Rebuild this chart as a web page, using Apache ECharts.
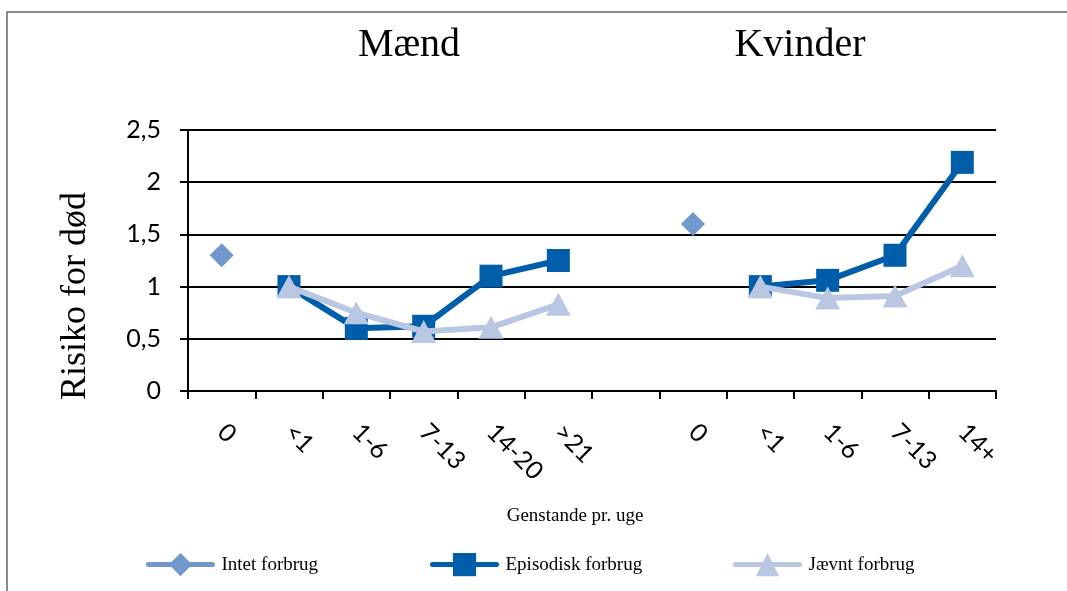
<!DOCTYPE html>
<html>
<head>
<meta charset="utf-8">
<script src="https://cdn.jsdelivr.net/npm/echarts@6/dist/echarts.min.js"></script>
<style>
html,body{margin:0;padding:0;background:#fff;}
#chart{width:1067px;height:591px;}
</style>
</head>
<body>
<div id="chart"></div>
<script>
const categories = ['0', '<1', '1-6', '7-13', '14-20', '>21', '', '0', '<1', '1-6', '7-13', '14+'];
const intetForbrug = [1.3, null, null, null, null, null, null, 1.6, null, null, null, null];
const episodiskForbrug = [null, 1.0, 0.6, 0.62, 1.1, 1.25, null, null, 1.0, 1.06, 1.3, 2.19];
const jaevntForbrug = [null, 1.0, 0.75, 0.57, 0.61, 0.83, null, null, 1.0, 0.89, 0.91, 1.2];
const yTicks = { min: 0, max: 2.5, interval: 0.5 };
const panelTitles = ['Mænd', 'Kvinder'];
const seriesNames = ['Intet forbrug', 'Episodisk forbrug', 'Jævnt forbrug'];

const C_INTET = '#7297CB', C_EPI = '#005DA9', C_JAEV = '#BAC7E3';
const serif = '"Liberation Serif", "Times New Roman", serif';
const sans = 'Lato, "Open Sans", sans-serif';

const chart = echarts.init(document.getElementById('chart'), null, { renderer: 'canvas' });

function legendAt(name, left) {
  return {
    data: [name], left: left, top: 553, padding: 0,
    itemWidth: 64, itemHeight: 29,
    lineStyle: { width: 5, cap: 'round' },
    textStyle: { fontFamily: serif, fontSize: 19, color: '#000', padding: [0, 0, 0, 4] },
    selectedMode: false
  };
}

chart.setOption({
  animation: false,
  backgroundColor: '#fff',
  grid: { left: 188, right: 71, top: 130, bottom: 200, containLabel: false },
  legend: [legendAt(seriesNames[0], 146), legendAt(seriesNames[1], 430), legendAt(seriesNames[2], 733)],
  xAxis: {
    type: 'category', data: categories, boundaryGap: true,
    axisLine: { lineStyle: { color: '#000', width: 2 } },
    axisTick: { show: true, length: 8, interval: 0, lineStyle: { color: '#000', width: 2 } },
    axisLabel: { interval: 0, rotate: -45, margin: 37, fontFamily: sans, fontSize: 25, color: '#000' },
    splitLine: { show: false }
  },
  yAxis: {
    type: 'value', min: yTicks.min, max: yTicks.max, interval: yTicks.interval,
    axisLine: { show: true, lineStyle: { color: '#000', width: 2 } },
    axisTick: { show: true, length: 8, lineStyle: { color: '#000', width: 2 } },
    axisLabel: { margin: 27, fontFamily: sans, fontSize: 25, color: '#000',
      formatter: v => String(v).replace('.', ',') },
    splitLine: { show: true, lineStyle: { color: '#000', width: 2 } }
  },
  series: [
    { name: seriesNames[1], type: 'line', data: episodiskForbrug, connectNulls: false,
      symbol: 'rect', symbolSize: 23, showAllSymbol: true,
      lineStyle: { color: C_EPI, width: 6 }, itemStyle: { color: C_EPI }, z: 2 },
    { name: seriesNames[2], type: 'line', data: jaevntForbrug, connectNulls: false,
      symbol: 'triangle', symbolSize: [25, 23], showAllSymbol: true,
      lineStyle: { color: C_JAEV, width: 6 }, itemStyle: { color: C_JAEV }, z: 3 },
    { name: seriesNames[0], type: 'line', data: intetForbrug, connectNulls: false,
      symbol: 'diamond', symbolSize: 24, showAllSymbol: true,
      lineStyle: { color: C_INTET, width: 6 }, itemStyle: { color: C_INTET }, z: 4 }
  ],
  graphic: [
    { type: 'rect', z: -10, shape: { x: 7, y: 12, width: 1200, height: 800 },
      style: { fill: 'none', stroke: '#666', lineWidth: 1.5 } },
    { type: 'text', x: 409, y: 45, style: { text: panelTitles[0], font: '40px ' + serif, fill: '#000', align: 'center', verticalAlign: 'middle' } },
    { type: 'text', x: 800, y: 45, style: { text: panelTitles[1], font: '40px ' + serif, fill: '#000', align: 'center', verticalAlign: 'middle' } },
    { type: 'text', x: 76, y: 296, rotation: Math.PI / 2, style: { text: 'Risiko for død', font: '36px ' + serif, fill: '#000', align: 'center', verticalAlign: 'middle' } },
    { type: 'text', x: 575, y: 516, style: { text: 'Genstande pr. uge', font: '19px ' + serif, fill: '#000', align: 'center', verticalAlign: 'middle' } }
  ]
});
</script>
</body>
</html>
